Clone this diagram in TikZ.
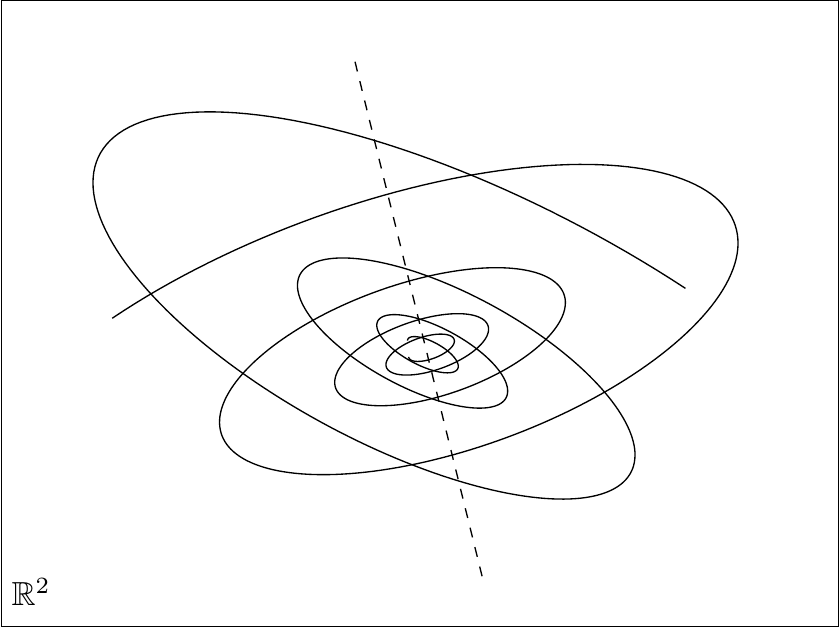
\documentclass[tikz,border=0pt]{standalone}
\usepackage{amsmath,amssymb}
\usepackage{tikz}
\usetikzlibrary{math}

\begin{document}
\begin{tikzpicture}[x=0.3pt,y=0.3pt]
	\useasboundingbox (0,0) rectangle (840,628);
	\draw (1.5,1.5) rectangle (838.5,627.5);
	\node[anchor=base west, inner sep=0pt] (plane) at (11,22.5) {$\mathbb{R}^2$};
	
	\coordinate (O) at (427,277.5);
	\coordinate (ltop) at (355,566.3);
	\coordinate (lbot) at (483,48);
	\draw[dashed] (ltop) -- (lbot);
	
	% first system, turning left
	\draw[shift={(O)}, variable=\t, domain=-5.162:15.708, samples=600] plot ({exp(-0.1508*\t)*(208*cos(\t r)+31.4*sin(\t r))}, {exp(-0.1508*\t)*(-104.5*cos(\t r)+82.1*sin(\t r))});
	% second system, turning right
	\draw[shift={(O)}, variable=\t, domain=-2.287:21.99, samples=700] plot ({exp(-0.1289*\t)*(311*cos(\t r)+40.1*sin(\t r))}, {exp(-0.1289*\t)*(107.5*cos(\t r)-125.4*sin(\t r))});
\end{tikzpicture}
\end{document}
